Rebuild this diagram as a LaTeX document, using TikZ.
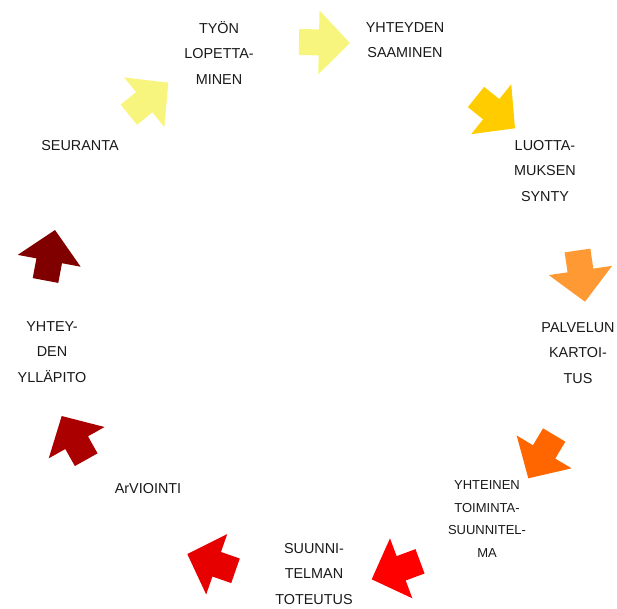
\documentclass[tikz,border=0pt]{standalone}
\usepackage{fontspec}
\setmainfont{Liberation Sans}
\usetikzlibrary{calc}
\definecolor{cyl}{HTML}{F8F57E}
\definecolor{cyg}{HTML}{FFCC00}
\definecolor{cor}{HTML}{FF9933}
\definecolor{cdo}{HTML}{FF6600}
\definecolor{crd}{HTML}{FF0000}
\definecolor{crm}{HTML}{E60000}
\definecolor{cdr}{HTML}{AA0000}
\definecolor{cmr}{HTML}{800000}
\tikzset{
  lbl/.style={align=center, font=\fontsize{14.4}{25.5}\selectfont, inner sep=0pt, text=black!90},
  lblsm/.style={align=center, font=\fontsize{13}{22.7}\selectfont, inner sep=0pt, text=black!90}
}
\newcommand\blkarrow[3]{%
  \coordinate (bT) at #1; \coordinate (bP) at #2;
  \coordinate (bJ) at ($(bT)!0.39!(bP)$);
  \fill[#3] ($(bT)!13pt!90:(bP)$) -- ($(bJ)!13pt!90:(bP)$) -- ($(bJ)!32pt!90:(bP)$) -- (bP)
    -- ($(bJ)!32pt!-90:(bP)$) -- ($(bJ)!13pt!-90:(bP)$) -- ($(bT)!13pt!-90:(bP)$) -- cycle;}
\begin{document}
\begin{tikzpicture}[x=1pt,y=-1pt]
\useasboundingbox (0,0) rectangle (617,608);
% arrows
\blkarrow{(299,42)}{(350,43)}{cyl}
\blkarrow{(476,97)}{(515,128.3)}{cyg}
\blkarrow{(577.5,250.5)}{(585,301.7)}{cor}
\blkarrow{(554.2,435)}{(528.3,478.3)}{cdo}
\blkarrow{(420,561.3)}{(371.7,579.3)}{crd}
\blkarrow{(235.5,570.8)}{(187.3,554)}{crm}
\blkarrow{(86.2,459.7)}{(61.7,416)}{cdr}
\blkarrow{(45.5,280.5)}{(55,230)}{cmr}
\blkarrow{(128.8,114.7)}{(168.3,82.7)}{cyl}
% labels
\node[lbl] (tyon) at (219,52.5) {TYÖN\\LOPETTA-\\MINEN};
\node[lbl] (yht) at (405,40) {YHTEYDEN\\SAAMINEN};
\node[lbl] (luo) at (545,171) {LUOTTA-\\MUKSEN\\SYNTY};
\node[lbl] (pal) at (578,353) {PALVELUN\\KARTOI-\\TUS};
\node[lblsm] (yhtt) at (487,519) {YHTEINEN\\TOIMINTA-\\SUUNNITEL-\\MA};
\node[lbl] (suu) at (314,574) {SUUNNI-\\TELMAN\\TOTEUTUS};
\node[lbl] (arv) at (148,489) {ArVIOINTI};
\node[lbl] (yyl) at (52,352) {YHTEY-\\DEN\\YLLÄPITO};
\node[lbl] (seu) at (80,146) {SEURANTA};
\end{tikzpicture}
\end{document}
